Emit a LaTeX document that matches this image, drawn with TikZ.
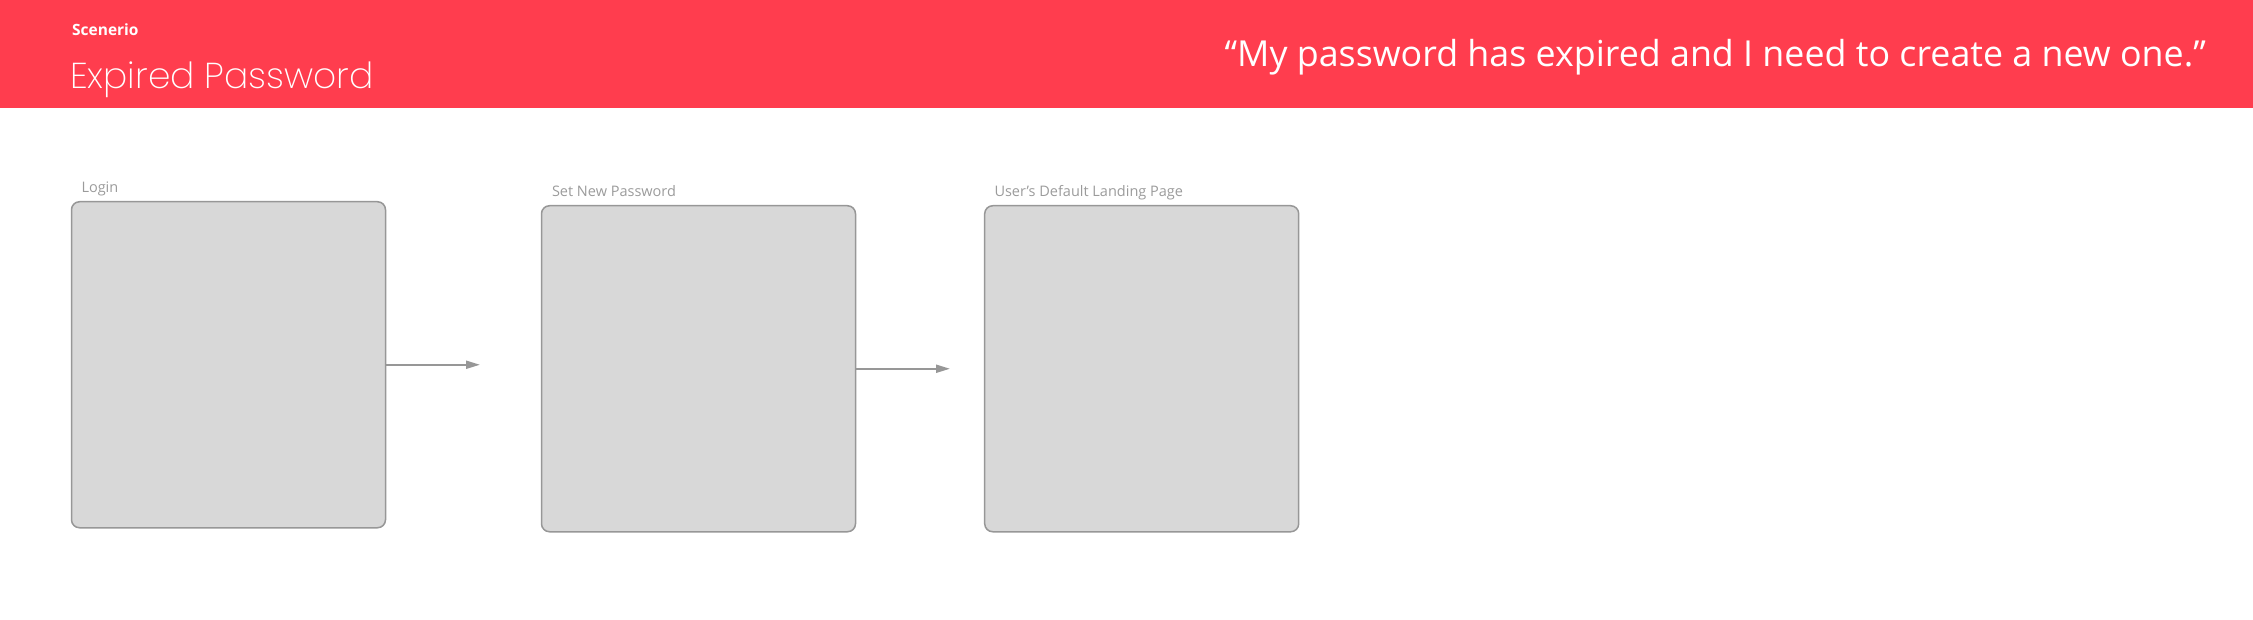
\documentclass[tikz,border=0pt]{standalone}
\usepackage{fontspec}
\setmainfont{Open Sans}
\newfontfamily\titlefont{Poppins ExtraLight}
\usetikzlibrary{arrows.meta}
\definecolor{headerred}{HTML}{FF3D4E}
\definecolor{screenfill}{HTML}{D8D8D8}
\definecolor{screenline}{HTML}{979797}
\definecolor{labelgray}{HTML}{9B9B9B}
\begin{document}
\begin{tikzpicture}[x=1pt,y=-1pt,
  screen/.style={draw=screenline,line width=1.5pt,fill=screenfill,rounded corners=8pt,
    minimum width=314pt,minimum height=326pt,inner sep=0pt},
  screenlabel/.style={anchor=base west,inner sep=0pt,text=labelgray,font=\fontsize{14.5}{17}\selectfont},
  flowarrow/.style={draw=screenline,line width=2pt,-{Triangle[length=14pt,width=8pt]}}]
\useasboundingbox (0,0) rectangle (2253,620);
% header band
\fill[headerred] (0,0) rectangle (2253,108);
\node[anchor=base west,inner sep=0pt,text=white,font=\bfseries\fontsize{15.5}{18}\selectfont] (kicker) at (72,36) {Scenerio};
\node[anchor=base west,inner sep=0pt,text=white,font=\titlefont\fontsize{36}{42}\selectfont] (title) at (70,89) {Expired Password};
\node[anchor=base east,inner sep=0pt,text=white,font=\fontsize{35.8}{42}\selectfont] (quote) at (2206,66.5) {“My password has expired and I need to create a new one.”};
% screens
\node[screen] (login) at (228.5,364.75) {};
\node[screen] (setpw) at (698.5,368.75) {};
\node[screen] (landing) at (1141.7,368.75) {};
\node[screenlabel] (loginlabel) at (81.3,192.3) {Login};
\node[screenlabel] (setpwlabel) at (551.8,196.5) {Set New Password};
\node[screenlabel] (landinglabel) at (994.3,196.7) {User’s Default Landing Page};
% flow
\coordinate (loginend) at (480,364.75);
\coordinate (setpwend) at (950,368.75);
\draw[flowarrow] (login.east) -- (loginend);
\draw[flowarrow] (setpw.east) -- (setpwend);
\end{tikzpicture}
\end{document}
